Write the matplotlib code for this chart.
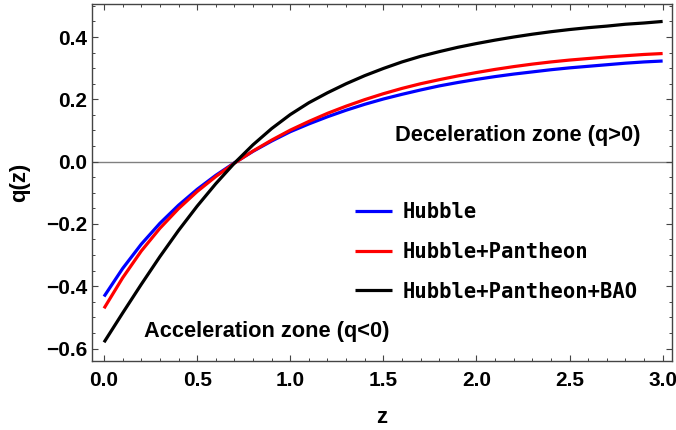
import numpy as np
import matplotlib
matplotlib.use("Agg")
import matplotlib.pyplot as plt
from matplotlib.ticker import MultipleLocator

# values
z = [0.0, 0.1, 0.2, 0.3, 0.4, 0.5, 0.6, 0.7, 0.8, 0.9, 1.0,
     1.1, 1.2, 1.3, 1.4, 1.5, 1.6, 1.7, 1.8, 1.9, 2.0,
     2.1, 2.2, 2.3, 2.4, 2.5, 2.6, 2.7, 2.8, 2.9, 3.0]
q_hubble = [-0.433, -0.343, -0.265, -0.198, -0.140, -0.089, -0.044, -0.004, 0.033, 0.066, 0.096,
            0.121, 0.144, 0.165, 0.184, 0.201, 0.216, 0.230, 0.243, 0.254, 0.264,
            0.273, 0.281, 0.288, 0.295, 0.301, 0.306, 0.311, 0.316, 0.320, 0.323]
q_hub_pan = [-0.471, -0.373, -0.287, -0.214, -0.151, -0.096, -0.048, -0.005, 0.034, 0.069, 0.101,
             0.129, 0.155, 0.178, 0.199, 0.218, 0.235, 0.250, 0.263, 0.275, 0.286,
             0.296, 0.305, 0.313, 0.320, 0.326, 0.331, 0.336, 0.340, 0.344, 0.347]
q_hub_pan_bao = [-0.580, -0.486, -0.394, -0.305, -0.221, -0.143, -0.071, -0.005, 0.054, 0.106, 0.151,
                 0.189, 0.221, 0.250, 0.276, 0.299, 0.320, 0.338, 0.353, 0.367, 0.379,
                 0.390, 0.400, 0.409, 0.417, 0.424, 0.430, 0.435, 0.441, 0.445, 0.450]

series_labels = ["Hubble", "Hubble+Pantheon", "Hubble+Pantheon+BAO"]
series_colors = ["#0000ff", "#ff0000", "#000000"]

plt.rcParams['font.family'] = ['Liberation Sans', 'DejaVu Sans']

fig = plt.figure(figsize=(6.76, 4.30), dpi=100)
ax = fig.add_axes([0.136, 0.1605, 0.858, 0.8302])

for ys, lab, col in zip([q_hubble, q_hub_pan, q_hub_pan_bao], series_labels, series_colors):
    ax.plot(z, ys, color=col, lw=2.3, label=lab, solid_capstyle='butt',
            solid_joinstyle='round')

# q = 0 reference line
ax.axhline(0.0, color='#808080', lw=1.0, zorder=0)

ax.set_xlim(-0.065, 3.05)
ax.set_ylim(-0.64, 0.506)

ax.xaxis.set_major_locator(MultipleLocator(0.5))
ax.xaxis.set_minor_locator(MultipleLocator(0.1))
ax.yaxis.set_major_locator(MultipleLocator(0.2))
ax.yaxis.set_minor_locator(MultipleLocator(0.05))
ax.xaxis.set_major_formatter(plt.FuncFormatter(lambda v, p: f"{v:.1f}"))
ax.yaxis.set_major_formatter(plt.FuncFormatter(lambda v, p: f"{v:.1f}".replace("-", "\u2212")))

ax.tick_params(which='both', direction='in', top=True, right=True, color='#444444')
ax.tick_params(which='major', length=4.5, width=0.8, labelsize=15, pad=3.5)
ax.tick_params(which='minor', length=2.5, width=0.7)
ax.tick_params(axis='x', which='major', pad=7)
for lbl in ax.get_xticklabels() + ax.get_yticklabels():
    lbl.set_fontweight('bold')
for sp in ax.spines.values():
    sp.set_color('#444444')
    sp.set_linewidth(1.0)

ax.set_xlabel("z", fontsize=16, fontweight='bold', va='baseline')
ax.set_ylabel("q(z)", fontsize=16, fontweight='bold', va='center')
ax.xaxis.set_label_coords(0.5, -0.1737)
ax.yaxis.set_label_coords(-0.124, 0.5)

ax.text(2.22, 0.0825, "Deceleration zone (q>0)", fontsize=15.7, fontweight='bold',
        ha='center', va='center')
ax.text(0.874, -0.546, "Acceleration zone (q<0)", fontsize=15.7, fontweight='bold',
        ha='center', va='center')

leg = ax.legend(loc='center left', bbox_to_anchor=(0.4534, 0.306), frameon=False,
                prop={'family': 'DejaVu Sans Mono', 'weight': 'bold', 'size': 14.8},
                handlelength=1.8, handletextpad=0.53, labelspacing=0.97,
                borderpad=0.0, borderaxespad=0.0)

fig.savefig("out.png", dpi=100)
